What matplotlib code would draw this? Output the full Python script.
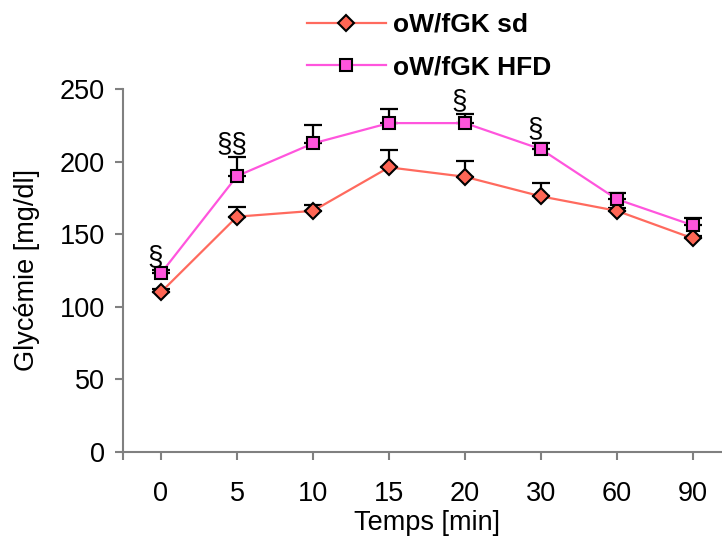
import matplotlib
matplotlib.use("Agg")
import matplotlib.pyplot as plt
import numpy as np

categories = ["0", "5", "10", "15", "20", "30", "60", "90"]
sd_values = [110, 162, 166, 196, 189.5, 176, 166, 147]
sd_err = [2, 7, 4, 12, 11, 9.5, 2, 2]
hfd_values = [123, 190, 212.5, 226.5, 226.5, 208.5, 174, 156]
hfd_err = [2, 13, 13, 10, 6, 4.5, 4.5, 5]
signif = ["§", "§§", "", "", "§", "§", "", ""]
y_ticks = [0, 50, 100, 150, 200, 250]

plt.rcParams['font.family'] = ['Liberation Sans', 'DejaVu Sans']

fig = plt.figure(figsize=(7.22, 5.36), dpi=100)
W, H = 722, 536
left, right, bottom, top = 123, 731, 451.7, 89
ax = fig.add_axes([left / W, 1 - bottom / H, (right - left) / W, (bottom - top) / H])

x = np.arange(len(categories))
sd_col_line = "#FF6A5E"
sd_col_face = "#FF6655"
hfd_col_line = "#FF55DD"
hfd_col_face = "#FF55DD"

ax.errorbar(x, sd_values, yerr=[np.zeros(len(sd_err)), sd_err], fmt='none',
            ecolor='black', elinewidth=1.6, capsize=6.5, capthick=1.6, zorder=2)
ax.errorbar(x, hfd_values, yerr=[np.zeros(len(hfd_err)), hfd_err], fmt='none',
            ecolor='black', elinewidth=1.6, capsize=6.5, capthick=1.6, zorder=2)

ax.plot(x, sd_values, color=sd_col_line, lw=1.6, marker='D', markersize=8,
        markerfacecolor=sd_col_face, markeredgecolor='black', markeredgewidth=1.5,
        label="oW/fGK sd", zorder=3)
ax.plot(x, hfd_values, color=hfd_col_line, lw=1.6, marker='s', markersize=8.5,
        markerfacecolor=hfd_col_face, markeredgecolor='black', markeredgewidth=1.5,
        label="oW/fGK HFD", zorder=4)

for xi, v, e, s in zip(x, hfd_values, hfd_err, signif):
    if s:
        ax.annotate(s, (xi, v + e), xytext=(-4, 0), textcoords='offset points',
                    ha='center', va='bottom', fontsize=20)

ax.set_xlim(-0.5, 7.5)
ax.set_ylim(0, 250)
ax.set_xticks(x)
ax.set_xticklabels(categories, fontsize=19.5)
ax.set_yticks(y_ticks)
ax.set_yticklabels([str(t) for t in y_ticks], fontsize=19.5)
ax.set_xticks([-0.5], minor=True)
ax.tick_params(axis='x', which='minor', length=6, width=1.5, color='#808080', direction='out')
ax.tick_params(axis='both', which='major', length=6, width=1.5, color='#808080', direction='out', pad=7)
ax.tick_params(axis='x', which='major', pad=15)

for sp in ['top', 'right']:
    ax.spines[sp].set_visible(False)
for sp in ['left', 'bottom']:
    ax.spines[sp].set_color('#808080')
    ax.spines[sp].set_linewidth(1.5)

ax.set_xlabel("Temps [min]", fontsize=19.5, labelpad=2)
ax.set_ylabel("Glycémie [mg/dl]", fontsize=19.5, labelpad=14)

leg = fig.legend(loc='upper left', bbox_to_anchor=(283 / W, 1 + 11 / H), frameon=False,
                 prop={'size': 19, 'weight': 'bold'}, handlelength=3.0, labelspacing=0.7,
                 handletextpad=0.25)

fig.savefig("out.png", dpi=100)
